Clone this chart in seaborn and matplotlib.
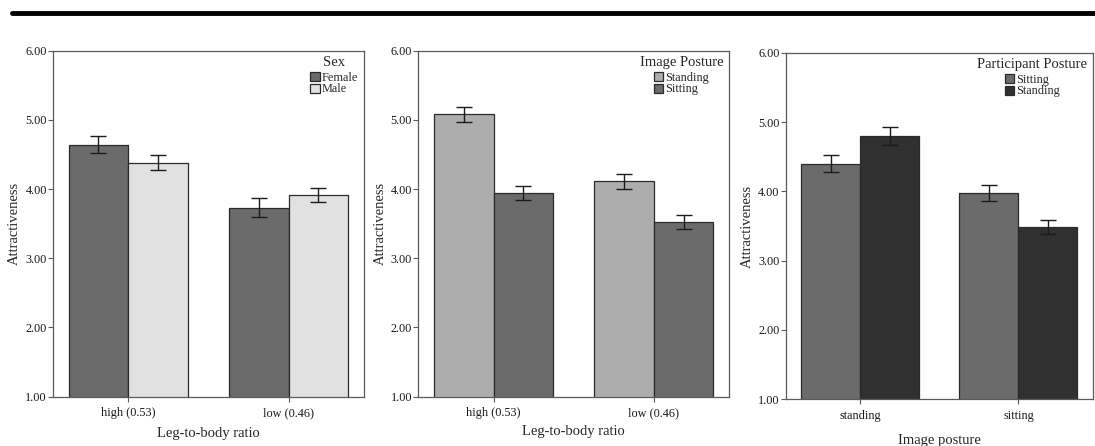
import matplotlib
matplotlib.use("Agg")
import matplotlib.pyplot as plt
from matplotlib.lines import Line2D
import seaborn as sns
import pandas as pd

# ---- data ----
p1_categories = ["high (0.53)", "low (0.46)"]
p1_groups = ["Female", "Male"]
p1_values = {"Female": [4.64, 3.73], "Male": [4.38, 3.91]}
p1_errors = {"Female": [0.12, 0.135], "Male": [0.11, 0.10]}

p2_categories = ["high (0.53)", "low (0.46)"]
p2_groups = ["Standing", "Sitting"]
p2_values = {"Standing": [5.08, 4.11], "Sitting": [3.94, 3.53]}
p2_errors = {"Standing": [0.11, 0.11], "Sitting": [0.105, 0.10]}

p3_categories = ["standing", "sitting"]
p3_groups = ["Sitting", "Standing"]
p3_values = {"Sitting": [4.40, 3.97], "Standing": [4.80, 3.49]}
p3_errors = {"Sitting": [0.125, 0.115], "Standing": [0.135, 0.10]}

y_ticks = [1.0, 2.0, 3.0, 4.0, 5.0, 6.0]
y_tick_labels = ["1.00", "2.00", "3.00", "4.00", "5.00", "6.00"]

panels = [
    dict(cats=p1_categories, groups=p1_groups, vals=p1_values, errs=p1_errors,
         colors=["#6b6b6b", "#e1e1e1"], title="Sex", xlabel="Leg-to-body ratio",
         rect=[0.0484, 0.1105, 0.284, 0.776], xlabelpad=5.5),
    dict(cats=p2_categories, groups=p2_groups, vals=p2_values, errs=p2_errors,
         colors=["#adadad", "#6b6b6b"], title="Image Posture", xlabel="Leg-to-body ratio",
         rect=[0.382, 0.1105, 0.2837, 0.776], xlabelpad=4.5),
    dict(cats=p3_categories, groups=p3_groups, vals=p3_values, errs=p3_errors,
         colors=["#6b6b6b", "#303030"], title="Participant Posture", xlabel="Image posture",
         rect=[0.7175, 0.1047, 0.2806, 0.777], xlabelpad=9),
]

sns.set_theme(style="white")
plt.rcParams["font.family"] = ["Liberation Serif", "DejaVu Serif"]

fig = plt.figure(figsize=(10.95, 4.46), dpi=100)
spine_col = "#5a5a5a"

for p in panels:
    ax = fig.add_axes(p["rect"])
    rows = []
    for g in p["groups"]:
        for c, v in zip(p["cats"], p["vals"][g]):
            rows.append({"cat": c, "grp": g, "val": v})
    df = pd.DataFrame(rows)
    sns.barplot(data=df, x="cat", y="val", hue="grp", order=p["cats"],
                hue_order=p["groups"], palette=p["colors"], errorbar=None,
                width=0.745, edgecolor="#2a2a2a", linewidth=0.9, saturation=1,
                ax=ax)
    for g, cont in zip(p["groups"], ax.containers):
        xs = [b.get_x() + b.get_width() / 2 for b in cont]
        ax.errorbar(xs, p["vals"][g], yerr=p["errs"][g], fmt="none",
                    ecolor="#1a1a1a", elinewidth=1.0, capsize=5.8, capthick=1.0,
                    zorder=5)
    ax.set_ylim(1.0, 6.0)
    ax.set_xlim(-0.47, 1.47)
    ax.set_yticks(y_ticks)
    ax.set_yticklabels(y_tick_labels)
    ax.set_ylabel("Attractiveness", fontsize=10.5, labelpad=3)
    ax.set_xlabel(p["xlabel"], fontsize=10.5, labelpad=p["xlabelpad"])
    ax.tick_params(axis="both", which="both", direction="out", length=3.5,
                   width=0.8, color=spine_col, labelsize=8.8, pad=1.0,
                   labelcolor="#1a1a1a", left=True, bottom=True)
    ax.tick_params(axis="x", pad=4)
    for s in ax.spines.values():
        s.set_visible(True)
        s.set_color(spine_col)
        s.set_linewidth(0.9)
    sns.move_legend(ax, "upper right", title=p["title"], frameon=False,
                    fontsize=8.8, title_fontsize=10.5, handlelength=0.75,
                    handleheight=0.75, handletextpad=0.2, labelspacing=-0.05,
                    borderaxespad=0.3, borderpad=0.15)
    leg = ax.get_legend()
    leg._legend_box.sep = 2

fig.add_artist(Line2D([12 / 1095, 1.0], [1 - 12.7 / 446, 1 - 12.7 / 446],
                      color="black", linewidth=3.5, transform=fig.transFigure))

fig.savefig("out.png", dpi=100)
